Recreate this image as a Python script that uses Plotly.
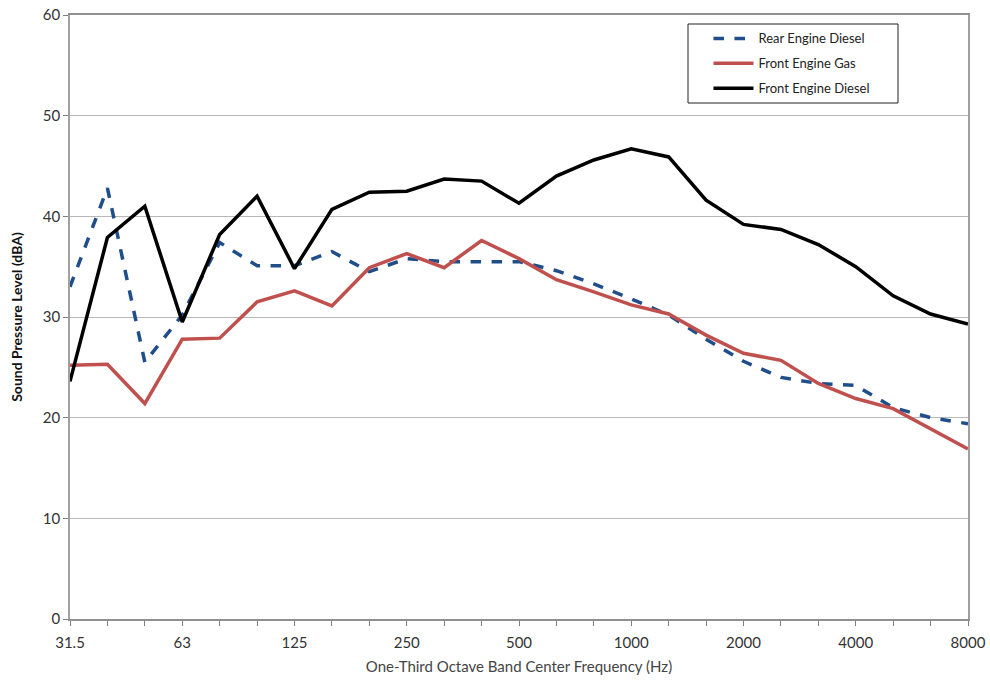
import plotly.graph_objects as go

bands = ["31.5", "40", "50", "63", "80", "100", "125", "160", "200", "250", "315", "400", "500",
         "630", "800", "1000", "1250", "1600", "2000", "2500", "3150", "4000", "5000", "6300", "8000"]
tick_labels = ["31.5", "", "", "63", "", "", "125", "", "", "250", "", "", "500",
               "", "", "1000", "", "", "2000", "", "", "4000", "", "", "8000"]

rear_engine_diesel = [33.0, 42.8, 25.5, 30.2, 37.4, 35.1, 35.1, 36.5, 34.5, 35.8, 35.5, 35.5, 35.5,
                      34.6, 33.3, 31.8, 30.2, 27.8, 25.6, 24.0, 23.4, 23.2, 21.0, 20.0, 19.4]
front_engine_gas = [25.2, 25.3, 21.4, 27.8, 27.9, 31.5, 32.6, 31.1, 34.9, 36.3, 34.9, 37.6, 35.8,
                    33.7, 32.5, 31.2, 30.3, 28.2, 26.4, 25.7, 23.4, 21.9, 20.9, 18.9, 16.9]
front_engine_diesel = [23.6, 37.9, 41.0, 29.5, 38.2, 42.0, 34.8, 40.7, 42.4, 42.5, 43.7, 43.5, 41.3,
                       44.0, 45.6, 46.7, 45.9, 41.6, 39.2, 38.7, 37.2, 35.0, 32.1, 30.3, 29.3]

font_family = "Lato, 'Open Sans', sans-serif"

fig = go.Figure()
fig.add_trace(go.Scatter(x=bands, y=rear_engine_diesel, mode="lines", name="Rear Engine Diesel",
                         legendgroup="a",
                         line=dict(color="#1F4E8A", width=3.5, dash="dash")))
fig.add_trace(go.Scatter(x=bands, y=front_engine_gas, mode="lines", name="Front Engine Gas",
                         legendgroup="b",
                         line=dict(color="#C0504D", width=3.5)))
fig.add_trace(go.Scatter(x=bands, y=front_engine_diesel, mode="lines", name="Front Engine Diesel",
                         legendgroup="c",
                         line=dict(color="#000000", width=3.5)))

fig.update_layout(
    width=990, height=686,
    margin=dict(l=70, r=22, t=15, b=67, autoexpand=False),
    paper_bgcolor="white", plot_bgcolor="white",
    font=dict(family=font_family, size=15, color="#333333"),
    showlegend=True,
    legend=dict(x=0.711, y=0.986, xanchor="left", yanchor="top",
                bgcolor="rgba(255,255,255,0)", borderwidth=0,
                font=dict(size=13, color="#222222"),
                tracegroupgap=5, traceorder="grouped", itemwidth=40),
    shapes=[dict(type="rect", xref="paper", yref="paper",
                 x0=(688 - 70) / 898, x1=(898 - 70) / 898,
                 y0=1 - (103 - 15) / 604, y1=1 - (24 - 15) / 604,
                 line=dict(color="#222222", width=1), fillcolor="rgba(0,0,0,0)")],
)

fig.update_xaxes(
    type="category", range=[0, 24], automargin=False, ticklabeloverflow="allow",
    tickmode="array", tickvals=bands, ticktext=tick_labels,
    ticks="outside", ticklen=5, tickcolor="#808080", ticklabelstandoff=4,
    showline=True, linecolor="#909090", linewidth=1.5, mirror=True,
    showgrid=False, zeroline=False,
    tickfont=dict(size=15, color="#333333"),
    title=dict(text="One-Third Octave Band Center Frequency (Hz)",
               font=dict(size=15, color="#444444"), standoff=12),
)
fig.update_yaxes(
    range=[0, 60], dtick=10, automargin=False, ticklabeloverflow="allow",
    ticks="outside", ticklen=5, tickcolor="#808080",
    showline=True, linecolor="#a0a0a0", linewidth=1.5, mirror=True,
    showgrid=True, gridcolor="#b8b8b8", gridwidth=1, zeroline=False,
    tickfont=dict(size=15, color="#333333"),
    title=dict(text="<b>Sound Pressure Level (dBA)</b>",
               font=dict(size=14, color="#111111"), standoff=17),
)

fig.write_html("out.html", config={"displayModeBar": False},
               post_script="document.body.style.margin='0';")
